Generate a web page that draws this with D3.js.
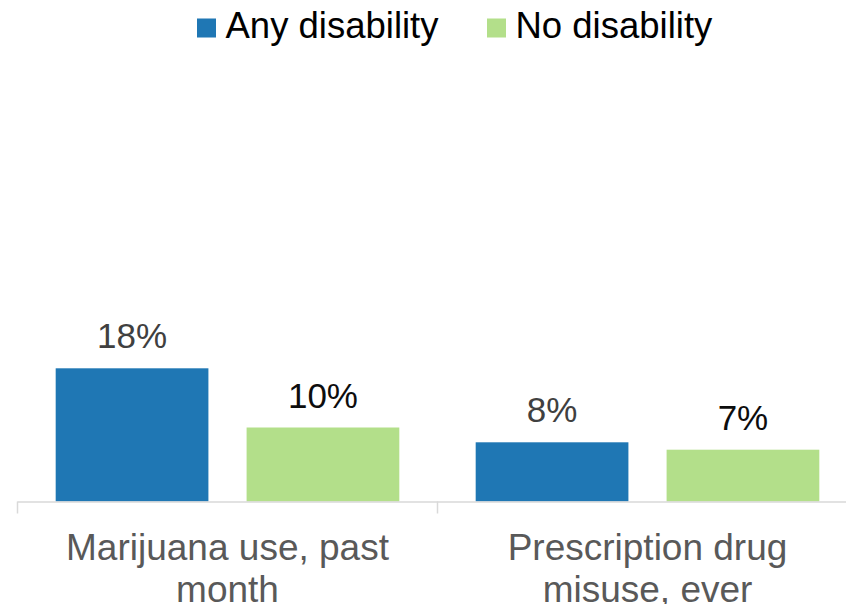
<!DOCTYPE html>
<html>
<head>
<meta charset="utf-8">
<script src="https://cdn.jsdelivr.net/npm/d3@7"></script>
<style>
  html, body { margin: 0; padding: 0; background: #fff; }
  svg { display: block; font-family: "Liberation Sans", Arial, sans-serif; }
</style>
</head>
<body>
<svg id="chart" width="846" height="604"></svg>
<script>
const categories = [["Marijuana use, past", "month"], ["Prescription drug", "misuse, ever"]];
const categoryKeys = ["Marijuana use, past month", "Prescription drug misuse, ever"];
const seriesNames = ["Any disability", "No disability"];
const anyDisability = [18, 8];
const noDisability = [10, 7];
const valueLabels = [["18%", "8%"], ["10%", "7%"]];
const seriesValues = [anyDisability, noDisability];
const colors = ["#1f77b4", "#b3df8a"];
const labelColors = ["#404040", "#0d0d0d"];

const svg = d3.select("#chart");
const baseY = 501.5;

const x0 = d3.scaleBand().domain(categoryKeys).range([17.5, 857.5]).padding(0);
const x1 = d3.scaleBand().domain(seriesNames).range([0, x0.bandwidth()]).padding(0.2);
const y = d3.scaleLinear().domain([0, 60]).range([baseY, baseY - 444]);

// bars
categoryKeys.forEach((c, ci) => {
  const g = svg.append("g").attr("transform", `translate(${x0(c)},0)`);
  seriesNames.forEach((s, si) => {
    const v = seriesValues[si][ci];
    g.append("rect")
      .attr("x", x1(s))
      .attr("y", y(v))
      .attr("width", x1.bandwidth())
      .attr("height", baseY - y(v))
      .attr("fill", colors[si]);
    g.append("text")
      .attr("x", x1(s) + x1.bandwidth() / 2)
      .attr("y", y(v) - 20)
      .attr("text-anchor", "middle")
      .attr("font-size", 35)
      .attr("fill", labelColors[si])
      .text(valueLabels[si][ci]);
  });
});

// axis
const axis = svg.append("g");
const [r0, r1] = x0.range();
axis.append("line")
  .attr("x1", r0).attr("x2", r1)
  .attr("y1", baseY + 0.5).attr("y2", baseY + 0.5)
  .attr("stroke", "#d9d9d9").attr("stroke-width", 1.5);
const tickXs = categoryKeys.map(c => x0(c)).concat([r1]);
axis.selectAll("line.tick").data(tickXs).enter().append("line")
  .attr("class", "tick")
  .attr("x1", d => d).attr("x2", d => d)
  .attr("y1", baseY).attr("y2", baseY + 12)
  .attr("stroke", "#d9d9d9").attr("stroke-width", 1.5);

// category labels
categoryKeys.forEach((c, ci) => {
  const t = svg.append("text")
    .attr("x", x0(c) + x0.bandwidth() / 2)
    .attr("y", 560)
    .attr("text-anchor", "middle")
    .attr("font-size", 37)
    .attr("fill", "#595959");
  categories[ci].forEach((line, li) => {
    t.append("tspan")
      .attr("x", x0(c) + x0.bandwidth() / 2)
      .attr("dy", li === 0 ? 0 : 42)
      .text(line);
  });
});

// legend
const legendX = [197, 487];
seriesNames.forEach((s, si) => {
  const g = svg.append("g").attr("transform", `translate(${legendX[si]},0)`);
  g.append("rect").attr("x", 0).attr("y", 18.5).attr("width", 19).attr("height", 19).attr("fill", colors[si]);
  g.append("text").attr("x", 28.5).attr("y", 37.7).attr("font-size", 36.5).attr("fill", "#000").text(s);
});
</script>
</body>
</html>
